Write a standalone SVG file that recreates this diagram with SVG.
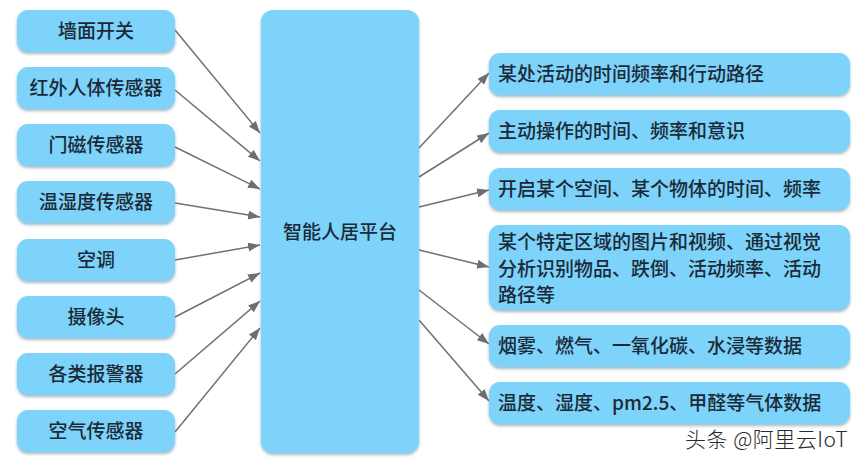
<svg xmlns="http://www.w3.org/2000/svg" width="864" height="468" viewBox="0 0 864 468">
<defs>
<filter id="sh" x="-10%" y="-20%" width="120%" height="150%">
<feDropShadow dx="0" dy="2" stdDeviation="1.5" flood-color="#5a7f95" flood-opacity="0.55"/>
</filter>
<marker id="ah" markerUnits="userSpaceOnUse" markerWidth="13" markerHeight="10" refX="12" refY="4.5" orient="auto">
<path d="M0,0 L12,4.5 L0,9 z" fill="#6e6e6e"/>
</marker>
<style>
.box{fill:#7dd3f9;filter:url(#sh)}
.t{font-family:"Noto Sans CJK SC","Liberation Sans",sans-serif;font-size:19px;fill:#1b2a38;font-weight:500}
.c{text-anchor:middle}
.ln{stroke:#707070;stroke-width:1.5;fill:none;marker-end:url(#ah)}
</style>
</defs>
<rect width="864" height="468" fill="#ffffff"/>
<g id="connectors">
<line class="ln" x1="175" y1="30" x2="260" y2="133"/>
<line class="ln" x1="175" y1="90" x2="260" y2="161"/>
<line class="ln" x1="175" y1="147" x2="260" y2="189"/>
<line class="ln" x1="175" y1="203" x2="260" y2="217"/>
<line class="ln" x1="175" y1="260" x2="260" y2="245"/>
<line class="ln" x1="175" y1="317" x2="260" y2="273"/>
<line class="ln" x1="175" y1="374" x2="260" y2="301"/>
<line class="ln" x1="175" y1="432" x2="260" y2="328"/>
<line class="ln" x1="419" y1="148" x2="489" y2="73"/>
<line class="ln" x1="419" y1="177" x2="489" y2="133"/>
<line class="ln" x1="419" y1="207" x2="489" y2="190"/>
<line class="ln" x1="419" y1="250" x2="489" y2="267"/>
<line class="ln" x1="419" y1="290" x2="489" y2="344"/>
<line class="ln" x1="419" y1="320" x2="489" y2="401"/>
</g>
<g id="center">
<rect class="box" x="261" y="10" width="158" height="443" rx="12"/>
<text class="t c" x="340" y="239">智能人居平台</text>
</g>
<g id="in1"><rect class="box" x="17" y="10" width="158" height="42" rx="11"/><text class="t c" x="96" y="38">墙面开关</text></g>
<g id="in2"><rect class="box" x="17" y="67" width="158" height="42" rx="11"/><text class="t c" x="96" y="95">红外人体传感器</text></g>
<g id="in3"><rect class="box" x="17" y="124" width="158" height="42" rx="11"/><text class="t c" x="96" y="152">门磁传感器</text></g>
<g id="in4"><rect class="box" x="17" y="181" width="158" height="42" rx="11"/><text class="t c" x="96" y="209">温湿度传感器</text></g>
<g id="in5"><rect class="box" x="17" y="239" width="158" height="42" rx="11"/><text class="t c" x="96" y="267">空调</text></g>
<g id="in6"><rect class="box" x="17" y="296" width="158" height="42" rx="11"/><text class="t c" x="96" y="324">摄像头</text></g>
<g id="in7"><rect class="box" x="17" y="353" width="158" height="42" rx="11"/><text class="t c" x="96" y="381">各类报警器</text></g>
<g id="in8"><rect class="box" x="17" y="410" width="158" height="42" rx="11"/><text class="t c" x="96" y="438">空气传感器</text></g>
<g id="out1"><rect class="box" x="489" y="53" width="361" height="42" rx="11"/><text class="t" x="498" y="81">某处活动的时间频率和行动路径</text></g>
<g id="out2"><rect class="box" x="489" y="110" width="361" height="42" rx="11"/><text class="t" x="498" y="138">主动操作的时间、频率和意识</text></g>
<g id="out3"><rect class="box" x="489" y="168" width="361" height="42" rx="11"/><text class="t" x="498" y="196">开启某个空间、某个物体的时间、频率</text></g>
<g id="out4"><rect class="box" x="489" y="225" width="361" height="85" rx="11"/><text class="t" x="498" y="249">某个特定区域的图片和视频、通过视觉</text><text class="t" x="498" y="276">分析识别物品、跌倒、活动频率、活动</text><text class="t" x="498" y="302">路径等</text></g>
<g id="out5"><rect class="box" x="489" y="325" width="361" height="42" rx="11"/><text class="t" x="498" y="353">烟雾、燃气、一氧化碳、水浸等数据</text></g>
<g id="out6"><rect class="box" x="489" y="382" width="361" height="42" rx="11"/><text class="t" x="498" y="410">温度、湿度、pm2.5、甲醛等气体数据</text></g>
<text x="848" y="447" text-anchor="end" style="font-family:'Noto Sans CJK SC','Liberation Sans',sans-serif;font-size:21px;letter-spacing:0.5px;font-weight:300;fill:#2a2a2a">头条 @阿里云IoT</text>
</svg>
